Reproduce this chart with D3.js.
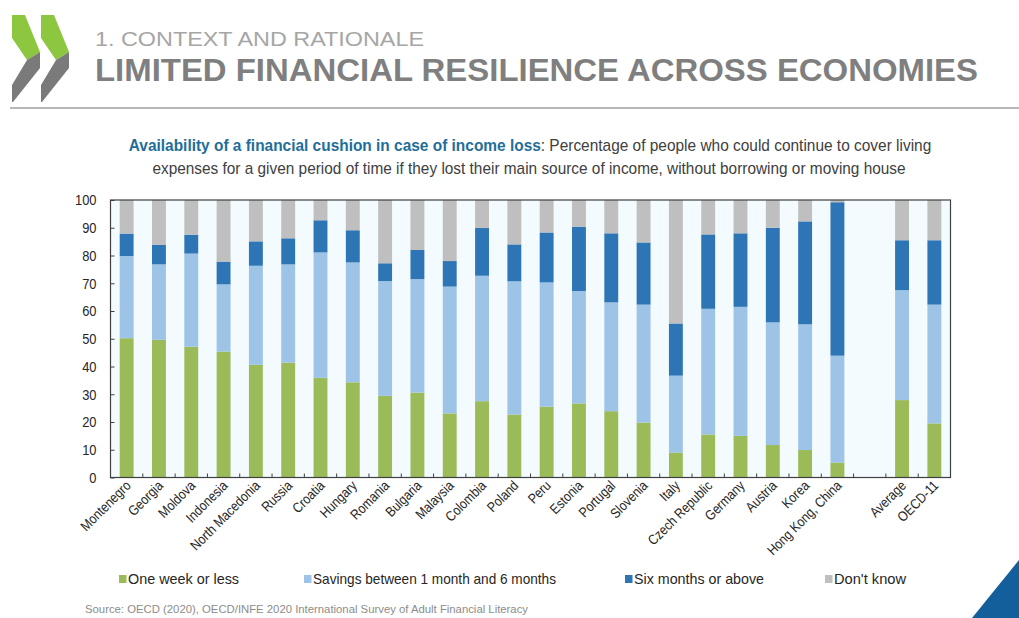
<!DOCTYPE html>
<html>
<head>
<meta charset="utf-8">
<script src="https://cdn.jsdelivr.net/npm/d3@7"></script>
<style>
  body { margin: 0; background: #fff; }
  svg { display: block; }
</style>
</head>
<body>
<svg id="chart" width="1019" height="618"></svg>
<script>
// Economies, in display order (a blank slot is inserted before the summary bars)
const categories = [
  "Montenegro", "Georgia", "Moldova", "Indonesia", "North Macedonia", "Russia",
  "Croatia", "Hungary", "Romania", "Bulgaria", "Malaysia", "Colombia", "Poland",
  "Peru", "Estonia", "Portugal", "Slovenia", "Italy", "Czech Republic", "Germany",
  "Austria", "Korea", "Hong Kong, China", "Average", "OECD-11"
];
const summaryStart = "Average";

// Percentage of respondents in each group
const oneWeekOrLess = [
  50.2, 49.6, 47.1, 45.4, 40.6, 41.4, 35.9, 34.3, 29.4, 30.6, 23.1, 27.5, 22.7,
  25.5, 26.7, 23.9, 19.8, 9.0, 15.5, 15.0, 11.7, 9.9, 5.4, 27.9, 19.5
];
const oneToSixMonths = [
  29.6, 27.2, 33.6, 24.2, 35.7, 35.4, 45.2, 43.2, 41.4, 40.9, 45.7, 45.2, 48.0,
  44.8, 40.5, 39.2, 42.5, 27.7, 45.3, 46.5, 44.2, 45.3, 38.5, 39.6, 42.8
];
const sixMonthsOrAbove = [
  8.1, 7.0, 6.8, 8.2, 8.8, 9.4, 11.6, 11.6, 6.4, 10.5, 9.2, 17.2, 13.3,
  18.0, 23.2, 24.9, 22.4, 18.8, 26.8, 26.5, 34.1, 37.1, 55.3, 18.0, 23.2
];
const dontKnow = [
  12.1, 16.2, 12.5, 22.2, 14.9, 13.8, 7.3, 10.9, 22.8, 18.0, 22.0, 10.1, 16.0,
  11.7, 9.6, 12.0, 15.3, 44.5, 12.4, 12.0, 10.0, 7.7, 0.8, 14.5, 14.5
];

const seriesNames = [
  "One week or less",
  "Savings between 1 month and 6 months",
  "Six months or above",
  "Don't know"
];
const seriesColors = ["#9bbb59", "#9dc3e6", "#2e75b6", "#bfbfbf"];
const yTicks = [0, 10, 20, 30, 40, 50, 60, 70, 80, 90, 100];

const svg = d3.select("#chart");
const FONT = '"Liberation Sans", Arial, sans-serif';
const SQUEEZE = 0.86; // horizontal compression for the condensed chart lettering

// ---- Header: logo, section label, title, rule ----
const logo = svg.append("g");
[0, 29].forEach(dx => {
  logo.append("polygon")
    .attr("points", [[12, 15], [25, 15], [40, 52], [27, 60], [12, 38]].map(p => [p[0] + dx, p[1]].join(",")).join(" "))
    .attr("fill", "#8dc63f");
  logo.append("polygon")
    .attr("points", [[27, 60], [40, 52], [40, 68], [13, 102], [12, 102], [12, 85]].map(p => [p[0] + dx, p[1]].join(",")).join(" "))
    .attr("fill", "#7a7a7a");
});

svg.append("text")
  .attr("x", 95).attr("y", 46)
  .attr("font-family", FONT).attr("font-size", 21)
  .attr("fill", "#a6a6a6")
  .attr("textLength", 329).attr("lengthAdjust", "spacingAndGlyphs")
  .text("1. CONTEXT AND RATIONALE");

svg.append("text")
  .attr("x", 95).attr("y", 81)
  .attr("font-family", FONT).attr("font-size", 32).attr("font-weight", "bold")
  .attr("fill", "#7f7f7f")
  .attr("textLength", 883).attr("lengthAdjust", "spacingAndGlyphs")
  .text("LIMITED FINANCIAL RESILIENCE ACROSS ECONOMIES");

svg.append("line")
  .attr("x1", 10).attr("x2", 1019).attr("y1", 108).attr("y2", 108)
  .attr("stroke", "#a0a0a0").attr("stroke-width", 1.5);

// ---- Subtitle ----
const sub1 = svg.append("text")
  .attr("transform", "translate(530,151) scale(0.965,1)")
  .attr("text-anchor", "middle")
  .attr("font-family", FONT).attr("font-size", 16).attr("fill", "#404040");
sub1.append("tspan").attr("font-weight", "bold").attr("fill", "#1f6e99")
  .text("Availability of a financial cushion in case of income loss");
sub1.append("tspan").text(": Percentage of people who could continue to cover living");
svg.append("text")
  .attr("transform", "translate(529,174) scale(0.962,1)")
  .attr("text-anchor", "middle")
  .attr("font-family", FONT).attr("font-size", 16).attr("fill", "#404040")
  .text("expenses for a given period of time if they lost their main source of income, without borrowing or moving house");

// ---- Plot ----
const plot = { left: 110.5, right: 950.5, top: 200, bottom: 477.5 };

const slots = [];
categories.forEach(c => {
  if (c === summaryStart) slots.push("__gap__");
  slots.push(c);
});

const x = d3.scaleBand()
  .domain(slots)
  .range([plot.left, plot.right])
  .paddingInner(0.57)
  .paddingOuter(0.285);

const y = d3.scaleLinear().domain([0, 100]).range([plot.bottom, plot.top]);

svg.append("rect")
  .attr("x", plot.left).attr("y", plot.top)
  .attr("width", plot.right - plot.left).attr("height", plot.bottom - plot.top)
  .attr("fill", "#f3fbfe");

const rows = categories.map((c, i) => ({
  name: c,
  s0: oneWeekOrLess[i],
  s1: oneToSixMonths[i],
  s2: sixMonthsOrAbove[i],
  s3: dontKnow[i]
}));
const stack = d3.stack().keys(["s0", "s1", "s2", "s3"]);
const layers = stack(rows);

svg.append("g").selectAll("g")
  .data(layers)
  .join("g")
  .attr("fill", (d, i) => seriesColors[i])
  .selectAll("rect")
  .data(d => d)
  .join("rect")
  .attr("x", d => x(d.data.name))
  .attr("width", x.bandwidth())
  .attr("y", d => y(Math.min(100, d[1])))
  .attr("height", d => y(d[0]) - y(Math.min(100, d[1])));

// y axis, ticks pointing inward
const yAxis = svg.append("g")
  .attr("transform", `translate(${plot.left},0)`)
  .call(d3.axisLeft(y).tickValues(yTicks).tickSizeInner(-4).tickSizeOuter(0).tickPadding(14));
yAxis.select(".domain").remove();
yAxis.selectAll(".tick line").attr("stroke", "#404040");
yAxis.selectAll("text")
  .attr("font-family", FONT).attr("font-size", 15).attr("fill", "#262626")
  .attr("x", -14 / SQUEEZE)
  .attr("transform", `scale(${SQUEEZE},1)`);

// x axis: boundary ticks between slots, pointing inward
const step = x.step();
const bounds = d3.range(1, slots.length).map(i => plot.left + i * step);
svg.append("g").selectAll("line")
  .data(bounds)
  .join("line")
  .attr("x1", d => d).attr("x2", d => d)
  .attr("y1", plot.bottom).attr("y2", plot.bottom - 4)
  .attr("stroke", "#404040");

// x labels
svg.append("g").selectAll("text")
  .data(categories)
  .join("text")
  .attr("transform", d => `translate(${x(d) + x.bandwidth() / 2 + 5},${plot.bottom + 9}) rotate(-45) scale(${SQUEEZE},1)`)
  .attr("text-anchor", "end")
  .attr("font-family", FONT).attr("font-size", 14).attr("fill", "#262626")
  .text(d => d);

// frame
svg.append("rect")
  .attr("x", plot.left).attr("y", plot.top)
  .attr("width", plot.right - plot.left).attr("height", plot.bottom - plot.top)
  .attr("fill", "none").attr("stroke", "#404040").attr("stroke-width", 1.2);

// ---- Legend ----
const legendX = [119, 304, 625, 825];
const legendW = [111, 243, 130, 72];
const legend = svg.append("g").selectAll("g")
  .data(seriesNames)
  .join("g")
  .attr("transform", (d, i) => `translate(${legendX[i]},575)`);
legend.append("rect").attr("width", 7.5).attr("height", 8).attr("fill", (d, i) => seriesColors[i]);
legend.append("text")
  .attr("x", 9).attr("y", 9)
  .attr("font-family", FONT).attr("font-size", 15).attr("fill", "#262626")
  .attr("textLength", (d, i) => legendW[i]).attr("lengthAdjust", "spacingAndGlyphs")
  .text(d => d);

// ---- Source ----
svg.append("text")
  .attr("x", 85).attr("y", 613)
  .attr("font-family", FONT).attr("font-size", 11).attr("fill", "#8c8c8c")
  .attr("textLength", 443).attr("lengthAdjust", "spacingAndGlyphs")
  .text("Source: OECD (2020), OECD/INFE 2020 International Survey of Adult Financial Literacy");

// ---- Corner accent ----
svg.append("polygon")
  .attr("points", "972,618 1019,560 1019,618")
  .attr("fill", "#135f9c");
</script>
</body>
</html>
